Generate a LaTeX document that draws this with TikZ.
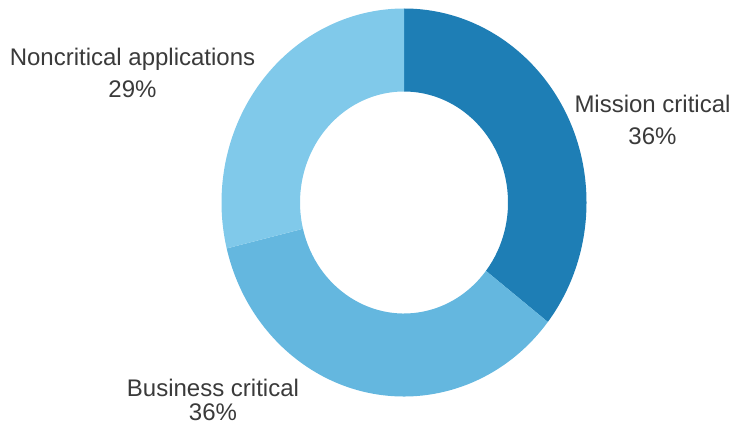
\documentclass[tikz,border=0pt]{standalone}
\usepackage{fontspec}
\setmainfont{Liberation Sans}
\definecolor{missionblue}{HTML}{1E7EB5}
\definecolor{businessblue}{HTML}{64B7DF}
\definecolor{noncritblue}{HTML}{80C9EA}
\definecolor{labelgray}{HTML}{3A3A3A}
\tikzset{
  lbl/.style={align=center,anchor=base,inner sep=0pt,text=labelgray,font=\fontsize{12}{16}\selectfont}
}
\begin{document}
\begin{tikzpicture}[x=0.5pt,y=0.5pt]
		\useasboundingbox (0,0) rectangle (732,424);
		%DONUT
		\begin{scope}[shift={(404,221.5)}]
		\fill[missionblue] (90:182.5 and 194) arc[start angle=90,end angle=-38,x radius=182.5,y radius=194] -- (-38:104 and 111) arc[start angle=-38,end angle=90,x radius=104,y radius=111] -- cycle;
		\fill[businessblue] (-38:182.5 and 194) arc[start angle=-38,end angle=-166.3,x radius=182.5,y radius=194] -- (-166.3:104 and 111) arc[start angle=-166.3,end angle=-38,x radius=104,y radius=111] -- cycle;
		\fill[noncritblue] (-166.3:182.5 and 194) arc[start angle=-166.3,end angle=-270,x radius=182.5,y radius=194] -- (-270:104 and 111) arc[start angle=-270,end angle=-166.3,x radius=104,y radius=111] -- cycle;
		\end{scope}
		
		%LABELS
		\node[lbl] (noncrit) at (132.5,327) {Noncritical applications\\29\%};
		\node[lbl] (mission) at (652.5,279.5) {Mission critical\\36\%};
		\node[lbl] (business) at (213,4) {Business critical\\[-4pt]36\%};
\end{tikzpicture}
\end{document}
